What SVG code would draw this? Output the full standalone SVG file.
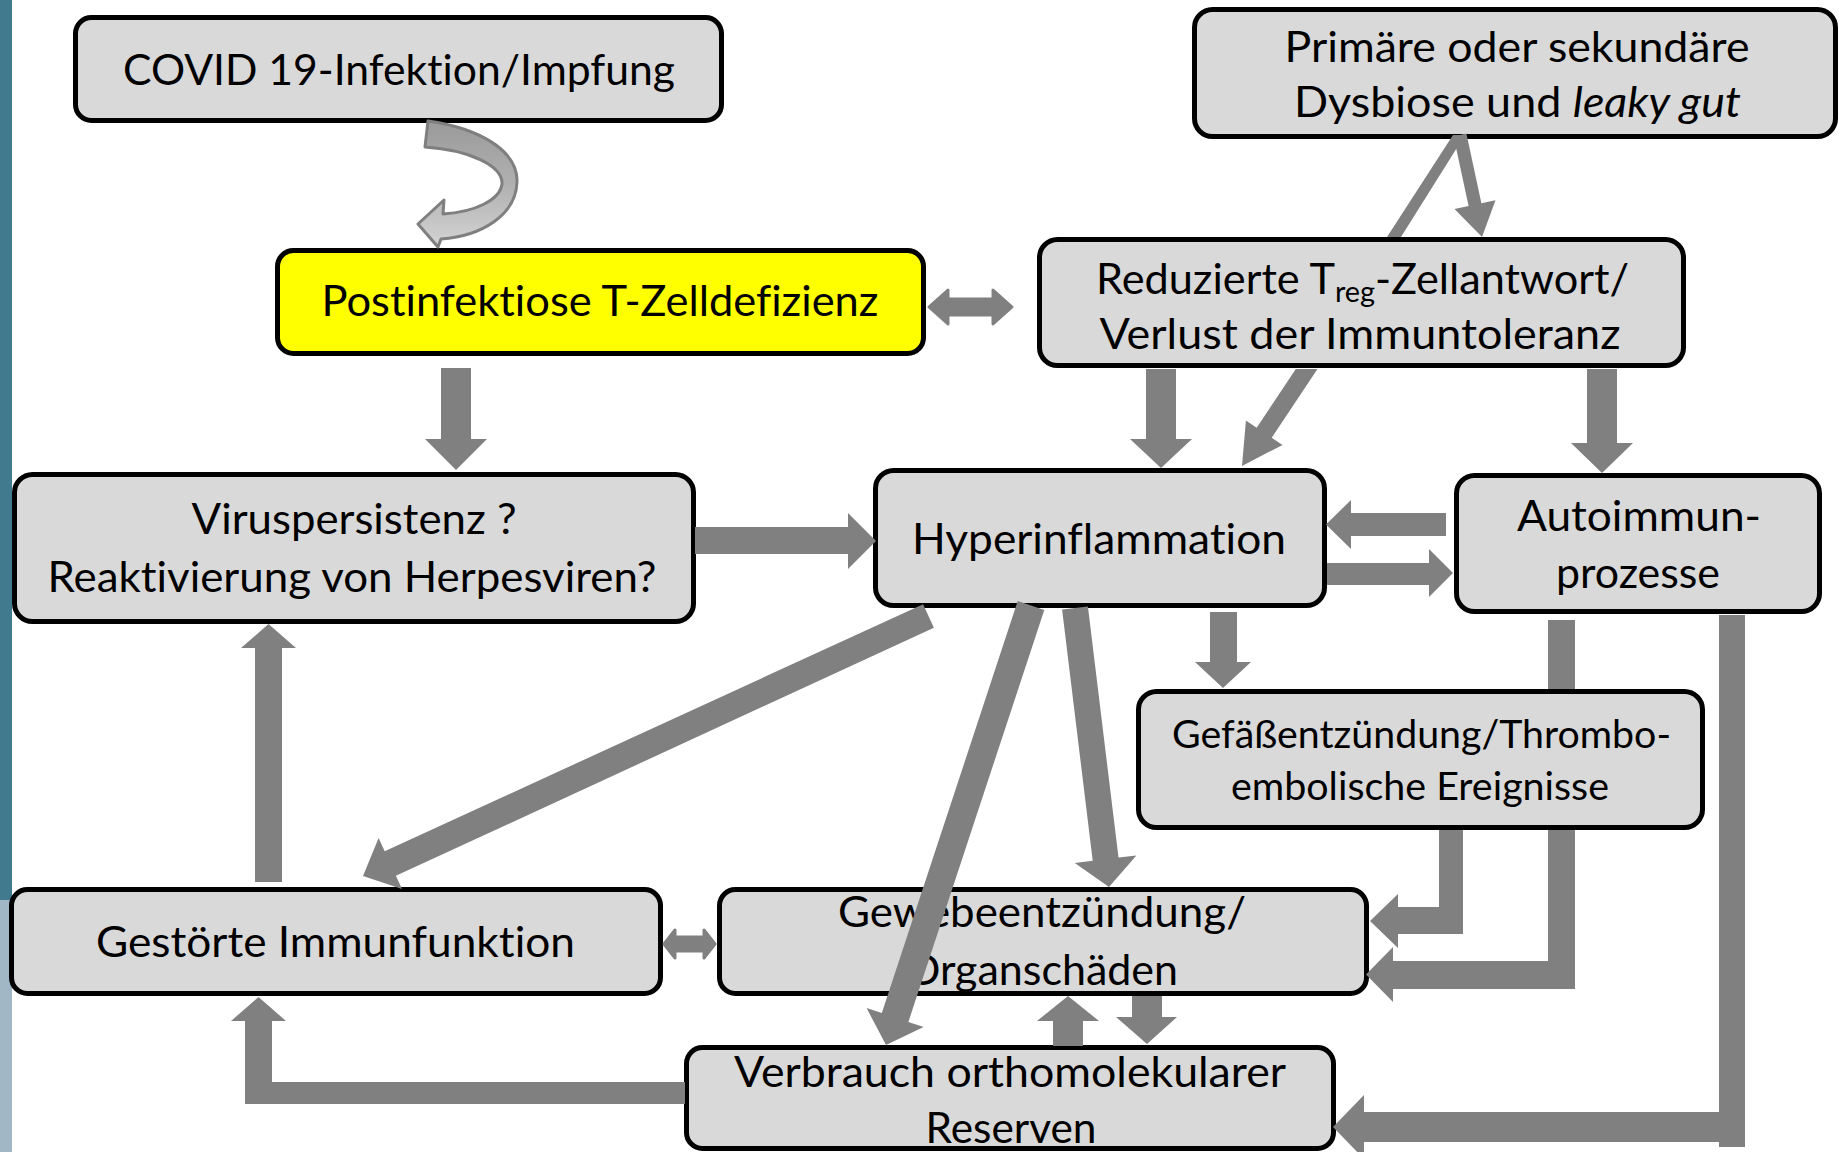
<svg xmlns="http://www.w3.org/2000/svg" width="1839" height="1152" viewBox="0 0 1839 1152">
<defs>
<style>
.box{fill:#D9D9D9;stroke:#000;stroke-width:5}
.yel{fill:#FFFF00}
.arr{fill:#808080}
.soft{fill:#808080;stroke:#808080;stroke-width:3;stroke-linejoin:round}
.t{font-family:Lato,"Liberation Sans",sans-serif;font-size:42px;fill:#000;text-anchor:middle;font-variant-ligatures:none;font-feature-settings:"liga" 0,"dlig" 0,"clig" 0}
.s{font-size:38px}
</style>
<linearGradient id="curv" x1="0" y1="0" x2="0" y2="1">
<stop offset="0" stop-color="#9A9A9A"/>
<stop offset="0.5" stop-color="#B0B0B0"/>
<stop offset="1" stop-color="#D4D4D4"/>
</linearGradient>
</defs>
<rect x="0" y="0" width="1839" height="1152" fill="#FFFFFF"/>
<g id="sidebar">
<rect x="0" y="0" width="12" height="900" fill="#41798F"/>
<rect x="0" y="900" width="12" height="252" fill="#A1B7C5"/>
</g>
<g id="nodes">
<g id="n-covid">
<rect class="box" x="75.5" y="17.5" width="646" height="103" rx="16"/>
<text class="t" x="399" y="85" textLength="552" lengthAdjust="spacingAndGlyphs">COVID 19-Infektion/Impfung</text>
</g>
<g id="n-dysbiose">
<rect class="box" x="1194.5" y="9.5" width="641" height="127" rx="18"/>
<text class="t" x="1517" y="62" textLength="465" lengthAdjust="spacingAndGlyphs">Primäre oder sekundäre</text>
<text class="t" x="1517.5" y="117" textLength="447" lengthAdjust="spacingAndGlyphs">Dysbiose und <tspan font-style="italic">leaky gut</tspan></text>
</g>
<g id="n-tzell">
<rect class="box yel" x="277.5" y="250.5" width="646" height="103" rx="16"/>
<text class="t" x="600" y="316" textLength="557" lengthAdjust="spacingAndGlyphs">Postinfektiose T-Zelldefizienz</text>
</g>
<g id="n-treg">
<rect class="box" x="1039.5" y="239.5" width="644" height="126" rx="18"/>
<text class="t" x="1362.5" y="294" textLength="533" lengthAdjust="spacingAndGlyphs">Reduzierte T<tspan font-size="28" dy="8">reg</tspan><tspan dy="-8">-Zellantwort/</tspan></text>
<text class="t" x="1360" y="349" textLength="521" lengthAdjust="spacingAndGlyphs">Verlust der Immuntoleranz</text>
</g>
<g id="n-virus">
<rect class="box" x="14.5" y="474.5" width="679" height="147" rx="18"/>
<text class="t" x="354" y="534" textLength="325" lengthAdjust="spacingAndGlyphs">Viruspersistenz ?</text>
<text class="t" x="352" y="592" textLength="609" lengthAdjust="spacingAndGlyphs">Reaktivierung von Herpesviren?</text>
</g>
<g id="n-hyper">
<rect class="box" x="875.5" y="470.5" width="449" height="135" rx="18"/>
<text class="t" x="1099" y="554" textLength="374" lengthAdjust="spacingAndGlyphs">Hyperinflammation</text>
</g>
<g id="n-auto">
<rect class="box" x="1456.5" y="475.5" width="363" height="136" rx="18"/>
<text class="t" x="1639" y="531" textLength="244" lengthAdjust="spacingAndGlyphs">Autoimmun-</text>
<text class="t" x="1638" y="588" textLength="164" lengthAdjust="spacingAndGlyphs">prozesse</text>
</g>
<g id="n-gefaess">
<rect class="box" x="1138.5" y="691.5" width="564" height="136" rx="18"/>
<text class="t s" x="1421.5" y="748" textLength="499" lengthAdjust="spacingAndGlyphs">Gefäßentzündung/Thrombo-</text>
<text class="t s" x="1420" y="800" textLength="378" lengthAdjust="spacingAndGlyphs">embolische Ereignisse</text>
</g>
<g id="n-immun">
<rect class="box" x="11.5" y="889.5" width="649" height="104" rx="16"/>
<text class="t" x="335.5" y="957" textLength="479" lengthAdjust="spacingAndGlyphs">Gestörte Immunfunktion</text>
</g>
<g id="n-gewebe">
<rect class="box" x="719.5" y="889.5" width="647" height="104" rx="16"/>
<text class="t" x="1042" y="927" textLength="408" lengthAdjust="spacingAndGlyphs">Gewebeentzündung/</text>
<text class="t" x="1042" y="985" textLength="272" lengthAdjust="spacingAndGlyphs">Organschäden</text>
</g>
<g id="n-verbrauch">
<rect class="box" x="686.5" y="1047.5" width="647" height="101" rx="16"/>
<text class="t" x="1010" y="1087" textLength="552" lengthAdjust="spacingAndGlyphs">Verbrauch orthomolekularer</text>
<text class="t" x="1011" y="1143" textLength="171" lengthAdjust="spacingAndGlyphs">Reserven</text>
</g>
</g>
<g id="connectors">
<path d="M 428,121 C 478,128 518,150 517,182 C 516,215 482,236 441,239 L 438,247 L 418,224 L 444,200 L 443,214 C 475,212 500,200 502,184 C 503,166 470,150 425,147 Z" fill="url(#curv)" stroke="#7F7F7F" stroke-width="3" stroke-linejoin="round"/>
<polygon class="soft" points="929,307 948,290 948,299 993,299 993,290 1012,307 993,324 993,315 948,315 948,324"/>
<polygon class="arr" points="441,368 471,368 471,439 487,439 456,470 425,439 441,439"/>
<polygon class="arr" points="695,527 848,527 848,513 876,541 848,569 848,554 695,554"/>
<polygon class="arr" points="1387,237 1401,237 1465,135 1453,135"/>
<polygon class="arr" points="1453.6,136.4 1466.4,133.6 1481.4,203.3 1495.5,200.3 1482,237 1454.5,209.1 1468.6,206.1"/>
<polygon class="arr" points="1146,369 1176,369 1176,439 1192,439 1161,468 1130,439 1146,439"/>
<polygon class="arr" points="1295.8,369 1256.7,427.7 1245.9,420.5 1242,466 1282.5,444.9 1271.7,437.7 1317.5,369"/>
<polygon class="arr" points="1587,369 1617,369 1617,443 1633,443 1602,473 1571,443 1587,443"/>
<polygon class="arr" points="1446,513 1351,513 1351,500 1326,524.5 1351,549 1351,536 1446,536"/>
<polygon class="arr" points="1327,563 1429,563 1429,549 1453,573 1429,597 1429,585 1327,585"/>
<polygon class="arr" points="1210,612 1237,612 1237,662 1251,662 1223,688 1195,662 1210,662"/>
<polygon class="arr" points="923.1,604.2 933.9,627.8 395.9,875.8 402,888.9 363,876 378.6,838.1 384.7,851.2"/>
<polygon class="arr" points="1062.1,609.6 1087.9,606.4 1118.5,857.6 1136.4,855.4 1109,887 1074.8,863 1092.7,860.8"/>
<polygon class="arr" points="1439,830 1463,830 1463,934 1398,934 1398,948 1370,921 1398,894 1398,907 1439,907"/>
<rect class="arr" x="1548" y="620" width="27" height="69"/>
<polygon class="arr" points="1548,830 1575,830 1575,989 1393,989 1393,1002 1366,974.5 1393,947 1393,961 1548,961"/>
<polygon class="arr" points="1719,615 1745,615 1745,1147 1719,1147 1719,1142 1364,1142 1364,1159 1333,1127 1364,1095 1364,1112 1719,1112"/>
<polygon class="soft" points="664,944 675,930 675,937 704,937 704,930 715,944 704,958 704,951 675,951 675,958"/>
<polygon class="arr" points="1053,1046 1083,1046 1083,1021 1099,1021 1068,996 1037,1021 1053,1021"/>
<polygon class="arr" points="1132,996 1162,996 1162,1017 1177,1017 1147,1044 1116,1017 1132,1017"/>
<polygon class="arr" points="685,1082 685,1104 245,1104 245,1021 231,1021 258.5,997 286,1021 272,1021 272,1082"/>
<polygon class="arr" points="255,882 282,882 282,648 296,648 268.5,624 241,648 255,648"/>
<polygon class="arr" points="1017.7,601.1 1044.3,609.9 908.4,1021.9 923.6,1026.9 886,1045 866.6,1008.1 881.8,1013.1"/>
</g>
</svg>
